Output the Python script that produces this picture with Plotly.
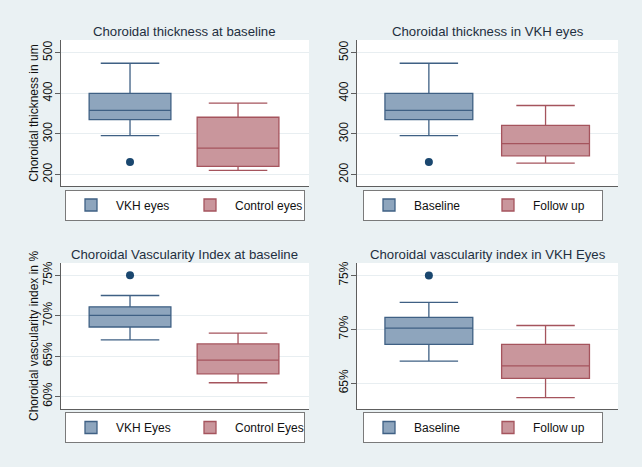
import plotly.graph_objects as go

# ---------------- data ----------------
titles = ["Choroidal thickness at baseline", "Choroidal thickness in VKH eyes",
          "Choroidal Vascularity Index at baseline", "Choroidal vascularity index in VKH Eyes"]
group_names = [["VKH eyes", "Control eyes"], ["Baseline", "Follow up"],
               ["VKH Eyes", "Control Eyes"], ["Baseline", "Follow up"]]
y_titles = ["Choroidal thickness in um", "", "Choroidal vascularity index in %", ""]

# per panel: [group A, group B]
lower_fence = [[296, 210], [296, 228], [67.0, 61.7], [67.05, 63.65]]
q1_vals     = [[335, 220], [335, 246], [68.6, 62.8], [68.6, 65.45]]
median_vals = [[358, 265], [358, 276], [70.05, 64.5], [70.1, 66.6]]
q3_vals     = [[400, 341], [400, 321], [71.1, 66.5], [71.1, 68.6]]
upper_fence = [[474, 376], [474, 370], [72.5, 67.85], [72.5, 70.35]]
outliers    = [[231], [231], [75.0], [75.0]]   # all belong to group A

tick_vals = [[200, 300, 400, 500], [200, 300, 400, 500], [60, 65, 70, 75], [65, 70, 75]]
tick_text = [["200", "300", "400", "500"], ["200", "300", "400", "500"],
             ["60%", "65%", "70%", "75%"], ["65%", "70%", "75%"]]

# ---------------- style ----------------
FONT = "Liberation Sans, Arial, Helvetica, sans-serif"
BG = "#EAF1F3"
FILL = ["#8EA5BD", "#C9969C"]
LINE = ["#3F6084", "#A5545D"]
OUT_COLOR = "#1A476F"
GRID = "#E8EEF1"
AXIS = "#5E5E5E"

x_dom = [[61 / 642, 309 / 642], [357 / 642, 618 / 642]]
y_dom = [[1 - 186 / 467, 1 - 40 / 467], [1 - 409 / 467, 1 - 263 / 467]]
x_ranges = [[-0.639, 1.657], [-0.616, 1.621], [-0.639, 1.657], [-0.616, 1.621]]
y_ranges = [[171.7, 531.3], [171.7, 531.3], [58.45, 76.52], [62.6, 76.15]]
box_w = [0.757, 0.753, 0.757, 0.753]
whisk_w = [0.716, 0.665, 0.716, 0.665]
title_y = [1 - 31.5 / 467, 1 - 31.5 / 467, 1 - 254 / 467, 1 - 254 / 467]
legend_pos = [(65 / 642, 1 - 189.5 / 467), (363 / 642, 1 - 189.5 / 467),
              (65 / 642, 1 - 412 / 467), (363 / 642, 1 - 412 / 467)]

fig = go.Figure()
layout = {}
annotations = []

for p in range(4):
    row, col = divmod(p, 2)
    sfx = "" if p == 0 else str(p + 1)
    xa, ya = "x" + sfx, "y" + sfx
    leg = "legend" + sfx
    for g in range(2):
        fig.add_trace(go.Box(
            x=[g], q1=[q1_vals[p][g]], median=[median_vals[p][g]], q3=[q3_vals[p][g]],
            lowerfence=[lower_fence[p][g]], upperfence=[upper_fence[p][g]],
            name=group_names[p][g], width=box_w[p], whiskerwidth=whisk_w[p],
            fillcolor=FILL[g], line=dict(color=LINE[g], width=1.3),
            boxpoints=False, xaxis=xa, yaxis=ya, legend=leg, hoverinfo="skip",
        ))
    fig.add_trace(go.Scatter(
        x=[0] * len(outliers[p]), y=outliers[p], mode="markers",
        marker=dict(color=OUT_COLOR, size=8), showlegend=False,
        xaxis=xa, yaxis=ya, hoverinfo="skip",
    ))

    layout["xaxis" + sfx] = dict(
        domain=x_dom[col], anchor=ya, range=x_ranges[p], showticklabels=False,
        showgrid=False, zeroline=False, showline=True, linecolor=AXIS, linewidth=1,
        ticks="", fixedrange=True, automargin=False,
    )
    layout["yaxis" + sfx] = dict(
        domain=y_dom[row], anchor=xa, range=y_ranges[p], tickmode="array",
        tickvals=tick_vals[p], ticktext=tick_text[p], tickangle=-90,
        ticks="outside", ticklen=5, tickcolor=AXIS, showline=True, linecolor=AXIS,
        linewidth=1, showgrid=True, gridcolor=GRID, gridwidth=1, zeroline=False,
        automargin=False, ticklabelstandoff=-2, fixedrange=True,
        tickfont=dict(family=FONT, size=12, color="#111"),
        title=dict(text=y_titles[p], font=dict(family=FONT, size=12, color="#111"), standoff=0),
    )
    layout[leg] = dict(
        x=legend_pos[p][0], y=legend_pos[p][1], xanchor="left", yanchor="top",
        orientation="h", bgcolor="white", bordercolor="#7A7A7A", borderwidth=1,
        font=dict(family=FONT, size=12, color="#111"), entrywidth=64,
        entrywidthmode="pixels", itemwidth=40, tracegroupgap=0,
    )
    annotations.append(dict(
        text=titles[p], xref="paper", yref="paper",
        x=(x_dom[col][0] + x_dom[col][1]) / 2, y=title_y[p],
        xanchor="center", yanchor="middle", showarrow=False,
        font=dict(family=FONT, size=13.2, color="#1E2F40"),
    ))

fig.update_layout(
    width=642, height=467, margin=dict(l=0, r=0, t=0, b=0, autoexpand=False),
    paper_bgcolor=BG, plot_bgcolor="white",
    font=dict(family=FONT, size=12, color="#111"),
    annotations=annotations, boxmode="overlay",
    **layout,
)

fig.write_html("out.html", config={"displayModeBar": False},
               post_script="document.body.style.margin='0px';")
